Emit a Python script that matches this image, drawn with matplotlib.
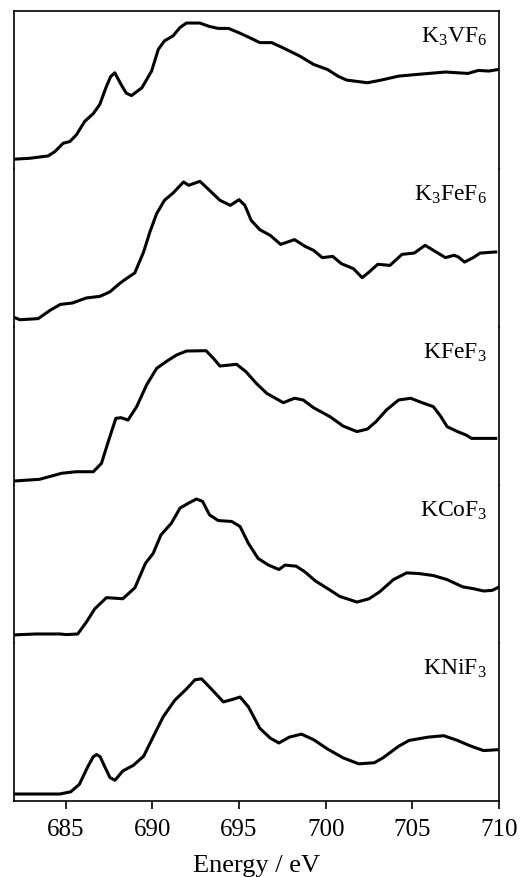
import matplotlib
matplotlib.use("Agg")
import matplotlib.pyplot as plt

plt.rcParams["font.family"] = ["Liberation Serif"]
plt.rcParams["mathtext.fontset"] = "custom"
plt.rcParams["mathtext.rm"] = "Liberation Serif"
plt.rcParams["mathtext.it"] = "Liberation Serif:italic"
plt.rcParams["mathtext.bf"] = "Liberation Serif:bold"

# Fluorine K-edge spectra, normalised intensity (arb. units, 0-100 per panel)
labels = [r"K$_3$VF$_6$", r"K$_3$FeF$_6$", r"KFeF$_3$", r"KCoF$_3$", r"KNiF$_3$"]

e_k3vf6 = [682.0, 682.94, 684.0, 684.38, 684.86, 685.25, 685.63, 686.1, 686.59, 686.97,
           687.36, 687.6, 687.84, 688.2, 688.5, 688.8, 689.4, 689.96, 690.35, 690.7, 691.2, 691.6,
           691.97, 692.74, 693.3, 693.8, 694.4, 695.05, 695.6, 696.2, 696.88, 697.5,
           698.5, 699.3, 700.1, 700.7, 701.2, 702.4, 703.2, 704.2, 705.3, 706.9,
           708.2, 708.8, 709.4, 710.0]
i_k3vf6 = [6.2, 6.8, 8.3, 11.0, 16.3, 17.4, 21.7, 30.1, 35.0, 40.8,
           52.4, 58.5, 60.9, 53.5, 48.0, 46.5, 51.4, 62.0, 75.8, 81.1, 84.3, 89.6,
           92.4, 92.4, 90.2, 89.0, 89.0, 86.0, 83.2, 80.0, 80.0, 76.9,
           71.5, 66.2, 63.0, 58.8, 56.3, 54.6, 56.3, 58.8, 59.9, 61.4,
           60.5, 62.4, 62.0, 63.1]

e_k3fef6 = [682.0, 682.36, 683.42, 684.1, 684.7, 685.4, 686.2, 686.98, 687.55, 688.1,
            688.5, 688.99, 689.5, 689.86, 690.25, 690.7, 691.2, 691.8, 692.1, 692.75,
            693.3, 693.9, 694.5, 695.0, 695.34, 695.7, 696.2, 696.8, 697.4, 698.2,
            698.8, 699.3, 699.8, 700.4, 700.9, 701.6, 702.1, 702.5, 703.0, 703.7,
            704.4, 705.1, 705.73, 706.3, 706.9, 707.4, 707.65, 708.0, 708.5, 708.9,
            709.8]
i_k3fef6 = [6.3, 4.6, 5.3, 10.5, 14.3, 15.2, 18.4, 19.4, 22.2, 27.4,
            30.6, 34.2, 47.5, 60.1, 71.7, 80.2, 84.8, 91.8, 89.7, 92.2,
            86.5, 80.2, 77.0, 80.6, 77.0, 67.5, 61.6, 58.0, 52.3, 55.3,
            51.1, 48.5, 43.9, 44.7, 40.1, 36.9, 31.2, 34.8, 39.7, 39.0,
            46.0, 46.8, 51.7, 47.9, 43.9, 45.4, 44.3, 41.1, 43.9, 46.8,
            47.5]

e_kfef3 = [682.0, 683.5, 684.77, 685.6, 686.6, 687.07, 687.46, 687.9, 688.2, 688.6,
           689.1, 689.67, 690.25, 690.8, 691.4, 691.98, 693.1, 693.52, 693.9, 694.86,
           695.4, 696.0, 696.6, 697.55, 698.2, 698.7, 699.3, 700.25, 701.0, 701.8,
           702.4, 702.9, 703.5, 704.2, 704.9, 705.5, 706.2, 706.6, 707.0, 707.6,
           708.1, 708.4, 709.8]
i_kfef3 = [2.5, 3.6, 7.4, 8.4, 8.4, 13.7, 27.4, 42.2, 42.6, 41.1,
           49.6, 63.3, 73.8, 78.1, 82.3, 84.8, 85.0, 80.2, 75.3, 76.4,
           71.7, 64.3, 58.0, 52.1, 54.9, 53.8, 48.9, 43.2, 37.3, 33.8,
           35.4, 40.1, 47.5, 53.8, 54.9, 52.3, 49.6, 43.9, 36.9, 33.8,
           31.6, 29.5, 29.5]

e_kcof3 = [682.0, 683.3, 684.67, 685.05, 685.7, 686.2, 686.69, 687.36, 688.3, 689.0,
           689.6, 690.05, 690.5, 691.1, 691.6, 692.17, 692.55, 692.9, 693.3, 693.8,
           694.58, 695.06, 695.54, 696.1, 696.7, 697.3, 697.65, 698.3, 698.8, 699.4,
           700.2, 700.8, 701.8, 702.5, 703.1, 703.9, 704.67, 705.4, 706.2, 707.0,
           707.9, 708.5, 709.1, 709.6, 710.0]
i_kcof3 = [5.1, 5.7, 5.7, 5.3, 5.7, 13.2, 21.7, 28.7, 28.0, 35.0,
           50.3, 56.7, 68.4, 75.8, 85.4, 89.0, 91.1, 89.6, 81.1, 77.5,
           76.9, 73.7, 63.1, 53.5, 49.3, 46.5, 49.3, 48.6, 45.0, 39.3,
           33.8, 29.5, 25.9, 28.0, 32.3, 40.1, 44.4, 43.9, 42.7, 40.1,
           35.5, 34.4, 32.9, 33.3, 35.5]

e_knif3 = [682.0, 684.1, 684.67, 685.3, 685.8, 686.3, 686.6, 686.79, 687.0, 687.2, 687.56, 687.85,
           688.3, 688.9, 689.5, 690.06, 690.63, 691.3, 691.98, 692.46, 692.84, 693.3,
           694.1, 694.6, 695.06, 695.54, 696.2, 696.8, 697.3, 697.9, 698.6, 699.3,
           700.1, 701.0, 701.9, 702.8, 703.3, 704.2, 704.8, 705.9, 706.8, 707.6,
           708.3, 709.1, 710.0]
i_knif3 = [4.4, 4.4, 4.4, 5.8, 10.6, 22.1, 28.0, 29.4, 27.9, 23.1, 14.8, 13.1,
           19.0, 22.5, 28.3, 40.8, 53.3, 63.8, 71.0, 76.7, 77.3, 72.1,
           62.7, 64.2, 65.8, 59.6, 46.0, 39.8, 36.7, 40.4, 42.3, 38.8,
           32.9, 27.3, 23.5, 24.2, 27.3, 34.6, 38.3, 40.4, 41.3, 38.3,
           35.0, 31.9, 32.5]

energies = [e_k3vf6, e_k3fef6, e_kfef3, e_kcof3, e_knif3]
intensities = [i_k3vf6, i_k3fef6, i_kfef3, i_kcof3, i_knif3]
xticks = [685, 690, 695, 700, 705, 710]

fig, axes = plt.subplots(5, 1, figsize=(5.2, 8.78), dpi=100, sharex=True,
                         gridspec_kw=dict(hspace=0))
fig.subplots_adjust(left=0.026, right=0.96, bottom=0.0866, top=0.9863)

n = len(axes)
for k, (ax, e, y, lab) in enumerate(zip(axes, energies, intensities, labels)):
    ax.plot(e, y, color="black", lw=2.2, solid_joinstyle="round")
    ax.set_xlim(682, 710)
    ax.set_ylim(0, 100)
    ax.set_yticks([])
    for s in ("left", "right", "top", "bottom"):
        ax.spines[s].set_linewidth(1.2)
    if k != 0:
        ax.spines["top"].set_visible(False)
    if k != n - 1:
        ax.spines["bottom"].set_visible(False)
        ax.tick_params(axis="x", bottom=False, labelbottom=False)
    ax.text(0.975, 0.845, lab, transform=ax.transAxes, ha="right", va="center",
            fontsize=17)

axes[-1].set_xticks(xticks)
axes[-1].tick_params(axis="x", direction="out", length=6, width=1.2,
                     labelsize=18, pad=6)
axes[-1].set_xlabel("Energy / eV", fontsize=19, labelpad=10)

fig.savefig("out.png", dpi=100)
